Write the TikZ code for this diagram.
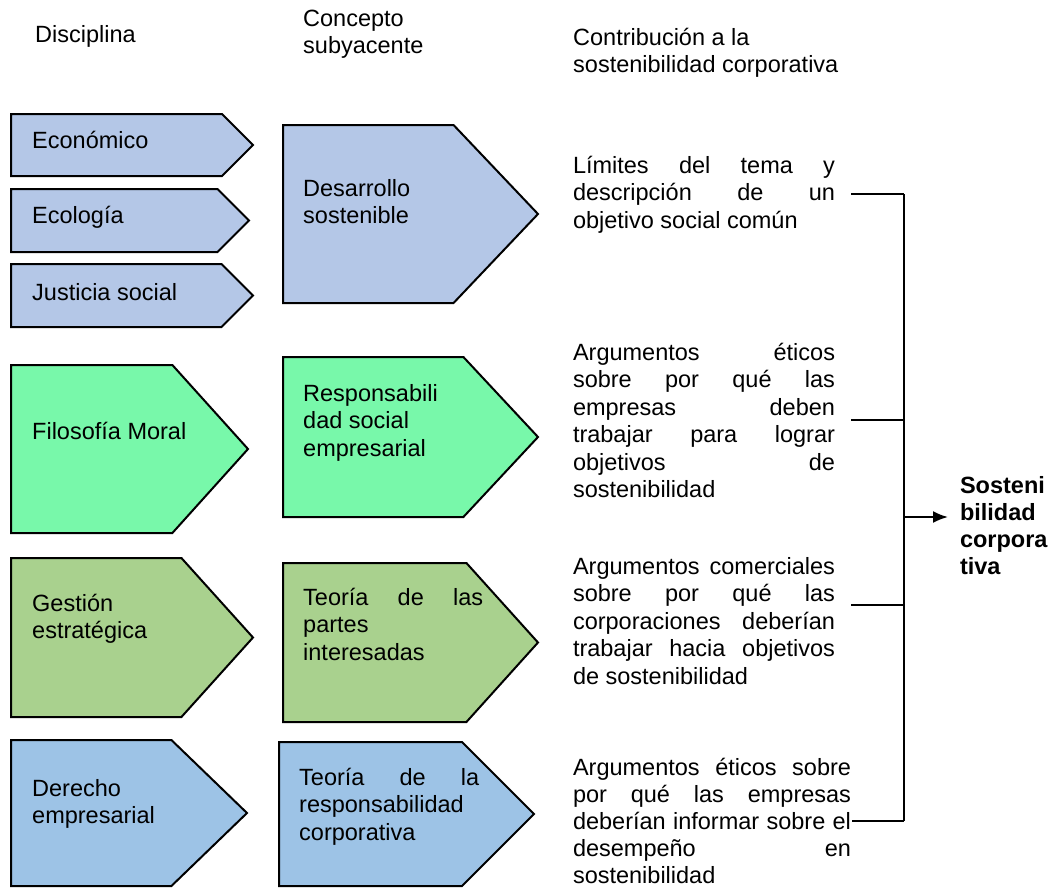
\documentclass[tikz,border=0pt]{standalone}
\usepackage{fontspec}
\setmainfont{Liberation Sans}
\usetikzlibrary{shapes.symbols,arrows.meta}
\definecolor{azulgris}{HTML}{B4C7E7}
\definecolor{menta}{HTML}{78F8AA}
\definecolor{oliva}{HTML}{A9D18E}
\definecolor{celeste}{HTML}{9DC3E6}
\tolerance=10000
\hbadness=10000
\hyphenpenalty=10000

\begin{document}
\begin{tikzpicture}[x=1pt,y=-1pt,>={Latex[length=15pt,width=12pt]},
  flecha/.style={signal,signal to=east,draw,line width=2pt,inner sep=0pt,anchor=north west},
  texto/.style={inner sep=0pt,anchor=base west,align=left,font=\fontsize{23.5}{27.5}\selectfont},
  bloque/.style={texto,text width=262pt,align=justify,outer xsep=16pt},
  conector/.style={line width=2pt}]

  \useasboundingbox (0,0) rectangle (1062,887);

  % encabezados
  \node[texto] (h1) at (35,42) {Disciplina};
  \node[texto] (h2) at (303,53.5) {Concepto\\subyacente};
  \node[texto] (h3) at (573,72.5) {Contribución a la\\sostenibilidad corporativa};

  % disciplinas
  \node[flecha,fill=azulgris,minimum width=242pt,minimum height=62pt,signal pointer angle=90] (d1) at (10,113) {};
  \node[flecha,fill=azulgris,minimum width=238pt,minimum height=63pt,signal pointer angle=90] (d2) at (10,188) {};
  \node[flecha,fill=azulgris,minimum width=242pt,minimum height=63pt,signal pointer angle=90] (d3) at (10,263) {};
  \node[flecha,fill=menta,minimum width=237pt,minimum height=168pt,signal pointer angle=96] (d4) at (10,364) {};
  \node[flecha,fill=oliva,minimum width=242pt,minimum height=159pt,signal pointer angle=96] (d5) at (10,557) {};
  \node[flecha,fill=celeste,minimum width=236pt,minimum height=146pt,signal pointer angle=88] (d6) at (10,739) {};

  \node[texto] (e1) at (32,148) {Económico};
  \node[texto] (e2) at (32,223) {Ecología};
  \node[texto] (e3) at (32,300) {Justicia social};
  \node[texto] (e4) at (32,439) {Filosofía Moral};
  \node[texto] (e5) at (32,638.5) {Gestión\\estratégica};
  \node[texto] (e6) at (32,823.5) {Derecho\\empresarial};

  % conceptos
  \node[flecha,fill=azulgris,minimum width=255pt,minimum height=178pt,signal pointer angle=93] (c1) at (282,124) {};
  \node[flecha,fill=menta,minimum width=255pt,minimum height=160pt,signal pointer angle=94] (c2) at (282,356) {};
  \node[flecha,fill=oliva,minimum width=255pt,minimum height=159pt,signal pointer angle=96] (c3) at (282,562) {};
  \node[flecha,fill=celeste,minimum width=255pt,minimum height=144pt,signal pointer angle=90] (c4) at (278,741) {};

  \node[texto] (k1) at (303,223.5) {Desarrollo\\sostenible};
  \node[texto] (k2) at (303,456) {Responsabili\\dad social\\empresarial};
  \node[texto,text width=180pt,align=justify] (k3) at (303,605) {Teoría de las\linebreak partes\\interesadas};
  \node[texto,text width=180pt,align=justify] (k4) at (299,785) {Teoría de la\linebreak responsabilidad\\corporativa};

  % contribuciones
  \node[bloque] (t1) at (557,173) {Límites del tema y\linebreak descripción de un\linebreak objetivo social común};
  \node[bloque] (t2) at (557,360) {Argumentos éticos\linebreak sobre por qué las\linebreak empresas deben\linebreak trabajar para lograr\linebreak objetivos de\linebreak sostenibilidad};
  \node[bloque] (t3) at (557,574) {Argumentos comerciales\linebreak sobre por qué las\linebreak corporaciones deberían\linebreak trabajar hacia objetivos\linebreak de sostenibilidad};
  \node[bloque,text width=278pt,outer xsep=1pt,font=\fontsize{23.5}{27.1}\selectfont] (t4) at (572,775) {Argumentos éticos sobre\linebreak por qué las empresas\linebreak deberían informar sobre el\linebreak desempeño en\linebreak sostenibilidad};

  \node[texto,font=\fontsize{23.5}{27}\selectfont\bfseries,outer xsep=12pt] (s) at (948,574) {Sosteni\\bilidad\\corpora\\tiva};

  \coordinate (bus) at (904,517);

  \draw[conector] (t1.east) -- (t1.east -| bus);
  \draw[conector] (t2.east) -- (t2.east -| bus);
  \draw[conector] ([yshift=16pt]t3.east) -- ([yshift=16pt]t3.east -| bus);
  \draw[conector] (t4.east) -- (t4.east -| bus);
  \draw[conector] (t1.east -| bus) -- (t4.east -| bus);
  \draw[conector,->] (bus) -- (bus -| s.west);

\end{tikzpicture}
\end{document}
